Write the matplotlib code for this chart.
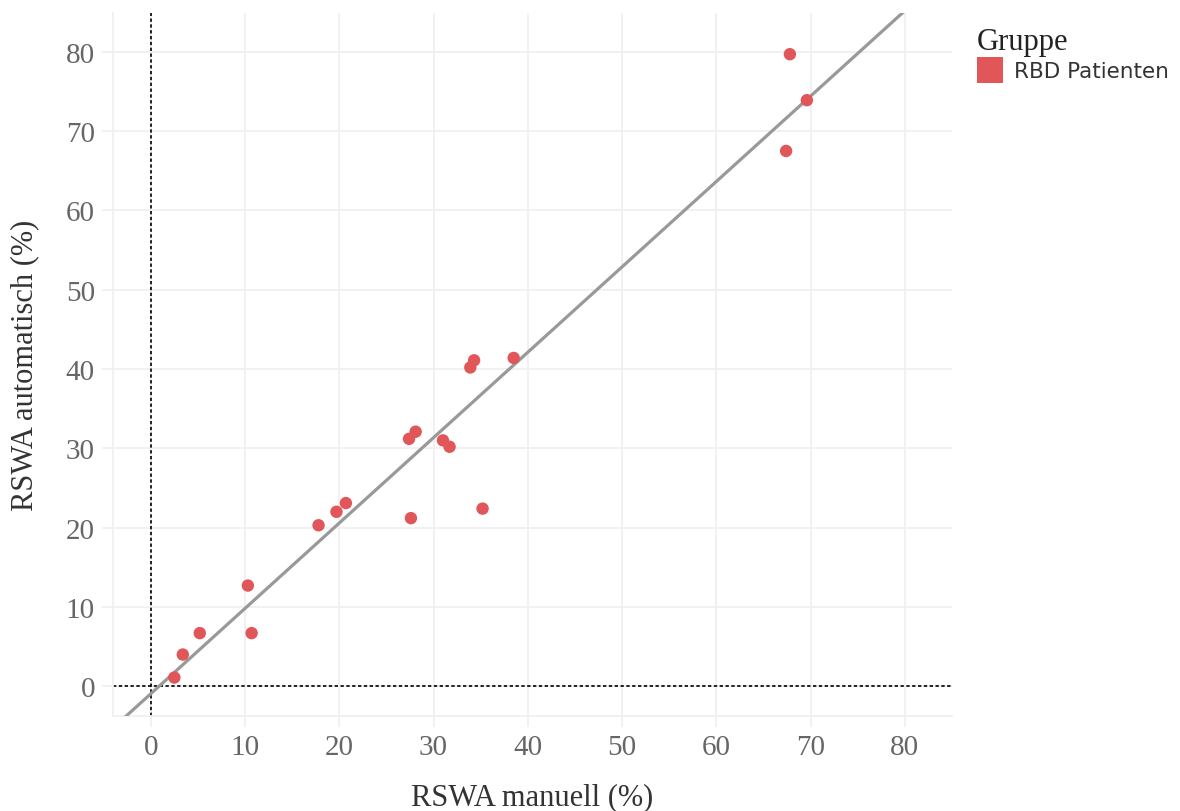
import numpy as np
import matplotlib
matplotlib.use('Agg')
import matplotlib.pyplot as plt
from matplotlib.lines import Line2D

# RSWA values (%)
manuell = [2.5, 3.4, 5.2, 10.3, 10.7, 17.8, 19.7, 20.7, 27.6, 27.4,
           28.1, 31.0, 31.7, 35.2, 33.9, 34.3, 38.5, 67.4, 67.8, 69.6]
automatisch = [1.1, 4.0, 6.7, 12.7, 6.7, 20.3, 22.0, 23.1, 21.2, 31.2,
               32.1, 31.0, 30.2, 22.4, 40.2, 41.1, 41.4, 67.5, 79.7, 73.9]
ticks = [0, 10, 20, 30, 40, 50, 60, 70, 80]
group_label = 'RBD Patienten'

red = '#e15759'
serif = ['Liberation Serif', 'DejaVu Serif']

fig = plt.figure(figsize=(11.8, 8.12), dpi=100)
ax = fig.add_axes([0.0958, 0.117, 0.711, 0.8658])

x = np.array(manuell)
y = np.array(automatisch)
slope, intercept = np.polyfit(x, y, 1)
xl = np.array([-4, 85])
ax.plot(xl, slope * xl + intercept, color='#999999', lw=2.3, zorder=3)

ax.scatter(x, y, s=80, color=red, edgecolors='none', zorder=4)

ax.axhline(0, color='black', lw=1.2, ls=(0, (2, 1.5)), zorder=2)
ax.axvline(0, color='black', lw=1.2, ls=(0, (2, 1.5)), zorder=2)

ax.set_xlim(-4, 85)
ax.set_ylim(-3.75, 84.9)
ax.set_xticks(ticks)
ax.set_yticks(ticks)
ax.grid(True, color='#f0f0f0', lw=1.3, zorder=0)
ax.set_axisbelow(True)
for s in ['top', 'right']:
    ax.spines[s].set_visible(False)
for s in ['left', 'bottom']:
    ax.spines[s].set_color('#f0f0f0')
    ax.spines[s].set_linewidth(1.3)
ax.tick_params(length=8, width=1.3, color='#f0f0f0', labelcolor='#666666',
               labelsize=21, pad=5)
for lab in ax.get_xticklabels() + ax.get_yticklabels():
    lab.set_family(serif)

ax.set_xlabel('RSWA manuell (%)', family=serif, fontsize=22, color='#333333', labelpad=16)
ax.set_ylabel('RSWA automatisch (%)', family=serif, fontsize=22, color='#333333', labelpad=19)

handle = Line2D([], [], marker='s', ls='none', markersize=19, color=red, markeredgewidth=0)
leg = fig.legend([handle], [group_label], title='Gruppe', loc='upper left',
                 bbox_to_anchor=(0.828, 0.966), frameon=False, fontsize=15.5,
                 handletextpad=0.5, borderaxespad=0, handlelength=1.2,
                 borderpad=0)
leg.get_title().set_family(serif)
leg.get_title().set_fontsize(22)
leg.get_title().set_color('#222222')
leg._legend_box.align = 'left'
leg._legend_box.sep = 4
for t in leg.get_texts():
    t.set_color('#333333')

fig.savefig('out.png', dpi=100)
